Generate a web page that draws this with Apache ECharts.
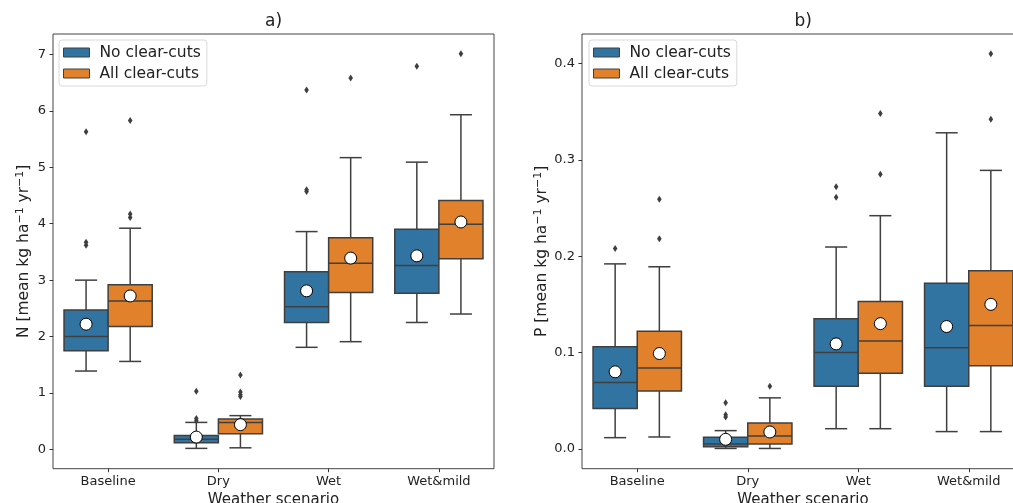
<!DOCTYPE html>
<html><head><meta charset="utf-8">
<script src="https://cdn.jsdelivr.net/npm/echarts@6/dist/echarts.min.js"></script>
<style>html,body{margin:0;padding:0;background:#fff}#c{width:1013px;height:503px}</style>
</head><body><div id="c"></div>
<script>
const categories = ['Baseline', 'Dry', 'Wet', 'Wet&mild'];
const seriesNames = ['No clear-cuts', 'All clear-cuts'];
// each box: [lower whisker, Q1, median, Q3, upper whisker]
const nNoBox = [[1.39, 1.75, 2.00, 2.47, 3.00], [0.02, 0.12, 0.18, 0.25, 0.48], [1.81, 2.25, 2.53, 3.15, 3.86], [2.25, 2.77, 3.26, 3.90, 5.09]];
const nAllBox = [[1.56, 2.18, 2.63, 2.92, 3.92], [0.03, 0.28, 0.48, 0.54, 0.60], [1.91, 2.78, 3.30, 3.75, 5.17], [2.40, 3.38, 3.99, 4.41, 5.93]];
const nNoMean = [2.22, 0.22, 2.81, 3.43];
const nAllMean = [2.72, 0.44, 3.39, 4.03];
const nNoOut = [[0, 5.63], [0, 3.67], [0, 3.62], [1, 1.03], [1, 0.55], [1, 0.51], [2, 6.37], [2, 4.60], [2, 4.57], [3, 6.79]];
const nAllOut = [[0, 5.83], [0, 4.17], [0, 4.11], [1, 1.32], [1, 1.02], [1, 0.97], [1, 0.94], [2, 6.58], [3, 7.01]];
const pNoBox = [[0.0117, 0.042, 0.069, 0.106, 0.192], [0.0005, 0.0024, 0.005, 0.012, 0.019], [0.021, 0.065, 0.100, 0.135, 0.2095], [0.018, 0.065, 0.105, 0.172, 0.328]];
const pAllBox = [[0.0124, 0.060, 0.084, 0.122, 0.189], [0.0005, 0.005, 0.0135, 0.027, 0.053], [0.021, 0.0785, 0.112, 0.153, 0.242], [0.018, 0.0864, 0.128, 0.185, 0.289]];
const pNoMean = [0.080, 0.010, 0.109, 0.127];
const pAllMean = [0.099, 0.0176, 0.130, 0.150];
const pNoOut = [[0, 0.208], [1, 0.048], [1, 0.0356], [1, 0.0332], [2, 0.272], [2, 0.261]];
const pAllOut = [[0, 0.259], [0, 0.218], [1, 0.065], [2, 0.348], [2, 0.285], [3, 0.410], [3, 0.342]];
const nTicks = [0, 1, 2, 3, 4, 5, 6, 7];
const pTicks = [0, 0.1, 0.2, 0.3, 0.4];

const FONT = 'DejaVu Sans';
const LINE = '#3f3f3f';
const COLORS = ['#3274a1', '#e1812c'];
const OFFS = [-0.2, 0.2];

function boxRender(off) {
  return function (params, api) {
    const i = api.value(0);
    const band = api.size([1, 0])[0];
    const cx = api.coord([i, 0])[0] + off * band;
    const w = band * 0.4, cap = w / 4;
    const Y = k => api.coord([i, api.value(k)])[1];
    const lo = Y(1), q1 = Y(2), md = Y(3), q3 = Y(4), hi = Y(5), mn = Y(6);
    const ls = { stroke: LINE, lineWidth: 1.5 };
    return {
      type: 'group', children: [
        { type: 'line', shape: { x1: cx, y1: q1, x2: cx, y2: lo }, style: ls },
        { type: 'line', shape: { x1: cx, y1: q3, x2: cx, y2: hi }, style: ls },
        { type: 'line', shape: { x1: cx - cap, y1: lo, x2: cx + cap, y2: lo }, style: ls },
        { type: 'line', shape: { x1: cx - cap, y1: hi, x2: cx + cap, y2: hi }, style: ls },
        { type: 'rect', shape: { x: cx - w / 2, y: q3, width: w, height: q1 - q3 }, style: { fill: api.visual('color'), stroke: LINE, lineWidth: 1.5 } },
        { type: 'line', shape: { x1: cx - w / 2, y1: md, x2: cx + w / 2, y2: md }, style: ls },
        { type: 'circle', shape: { cx: cx, cy: mn, r: 6 }, style: { fill: '#fff', stroke: '#000', lineWidth: 1 } }
      ]
    };
  };
}
function outRender(off) {
  return function (params, api) {
    const i = api.value(0);
    const band = api.size([1, 0])[0];
    const p = api.coord([i, api.value(1)]);
    const cx = p[0] + off * band, y = p[1];
    return { type: 'polygon', shape: { points: [[cx, y - 3.5], [cx + 2.3, y], [cx, y + 3.5], [cx - 2.3, y]] }, style: { fill: LINE } };
  };
}
function boxData(box, mean) { return categories.map((c, i) => [i].concat(box[i], [mean[i]])); }

function panelSeries(g, boxes, means, outs) {
  const s = [];
  for (let k = 0; k < 2; k++) {
    s.push({ type: 'custom', name: seriesNames[k], xAxisIndex: g, yAxisIndex: g, itemStyle: { color: COLORS[k] },
      renderItem: boxRender(OFFS[k]), encode: { x: 0, y: [1, 2, 3, 4, 5, 6] }, data: boxData(boxes[k], means[k]), z: 2 });
  }
  for (let k = 0; k < 2; k++) {
    s.push({ type: 'custom', name: seriesNames[k], xAxisIndex: g, yAxisIndex: g, itemStyle: { color: COLORS[k] },
      renderItem: outRender(OFFS[k]), encode: { x: 0, y: 1 }, data: outs[k], z: 3 });
  }
  return s;
}

const txt = { fontFamily: FONT, color: '#222' };
function xAxis(g) {
  return { type: 'category', gridIndex: g, data: categories, boundaryGap: true, position: 'bottom',
    axisLine: { show: false, onZero: false }, splitLine: { show: false },
    axisTick: { show: true, alignWithLabel: true, length: 3.5, lineStyle: { color: '#333', width: 1 } },
    axisLabel: Object.assign({ fontSize: 13, margin: 6 }, txt),
    name: 'Weather scenario', nameLocation: 'middle', nameGap: 21,
    nameTextStyle: Object.assign({ fontSize: 15 }, txt) };
}
function yAxis(g, min, max, ticks, name, gap, fmt) {
  return { type: 'value', gridIndex: g, min: min, max: max, scale: true,
    axisLine: { show: false, onZero: false }, splitLine: { show: false },
    axisTick: { show: true, length: 3.5, customValues: ticks, lineStyle: { color: '#333', width: 1 } },
    axisLabel: Object.assign({ fontSize: 13, margin: 7, customValues: ticks, formatter: fmt }, txt),
    name: name, nameLocation: 'middle', nameGap: gap,
    nameTextStyle: Object.assign({ fontSize: 15.5, rich: { sup: { fontFamily: FONT, color: '#222', fontSize: 11, verticalAlign: 'top', lineHeight: 18 } } }, txt) };
}
function legend(left) {
  return { orient: 'vertical', left: left, top: 40, padding: [4, 6, 4, 4], itemGap: 4,
    itemWidth: 26, itemHeight: 9, borderColor: '#d9d9d9', borderWidth: 1, borderRadius: 3, backgroundColor: '#fff',
    textStyle: { fontFamily: FONT, fontSize: 15.5, color: '#222', lineHeight: 17, padding: [0, 0, 0, 5] },
    data: seriesNames.map((n, k) => ({ name: n, icon: 'rect', itemStyle: { color: COLORS[k], borderColor: LINE, borderWidth: 1 } })) };
}

const chart = echarts.init(document.getElementById('c'), null, { renderer: 'canvas' });
chart.setOption({
  animation: false,
  backgroundColor: '#fff',
  title: [
    { text: 'a)', left: 265, top: 13.5, padding: 0, textStyle: { fontFamily: FONT, fontSize: 17, fontWeight: 'normal', color: '#222' } },
    { text: 'b)', left: 794.5, top: 13.5, padding: 0, textStyle: { fontFamily: FONT, fontSize: 17, fontWeight: 'normal', color: '#222' } }
  ],
  legend: [legend(59), legend(589)],
  grid: [
    { left: 53, top: 34, width: 441, bottom: 34.3, outerBoundsMode: 'none', containLabel: false, show: true, borderColor: '#444', borderWidth: 1 },
    { left: 582, top: 34, right: -11, bottom: 34.3, outerBoundsMode: 'none', containLabel: false, show: true, borderColor: '#444', borderWidth: 1 }
  ],
  xAxis: [xAxis(0), xAxis(1)],
  yAxis: [
    yAxis(0, -0.34, 7.36, nTicks, 'N [mean kg ha{sup|−1} yr{sup|−1}]', 20.5, v => String(v)),
    yAxis(1, -0.0205, 0.4305, pTicks, 'P [mean kg ha{sup|−1} yr{sup|−1}]', 31, v => v.toFixed(1))
  ],
  series: [].concat(
    panelSeries(0, [nNoBox, nAllBox], [nNoMean, nAllMean], [nNoOut, nAllOut]),
    panelSeries(1, [pNoBox, pAllBox], [pNoMean, pAllMean], [pNoOut, pAllOut])
  )
});
</script></body></html>
